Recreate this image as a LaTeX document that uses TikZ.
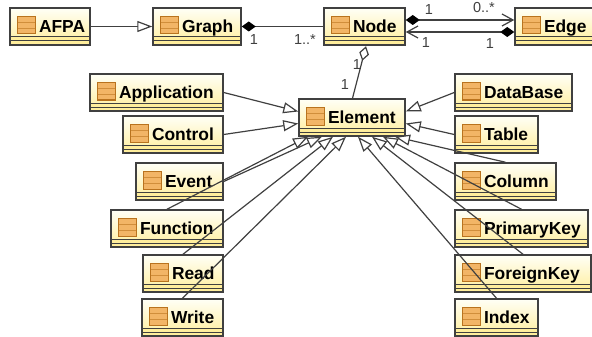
\documentclass[tikz,border=0pt]{standalone}
\usepackage{fontspec}
\setmainfont{Liberation Sans}
\usepackage{tikz}
\usetikzlibrary{arrows.meta,calc}

\definecolor{classtop}{HTML}{FFFFF6}
\definecolor{classbot}{HTML}{FFEE9C}
\definecolor{classline}{HTML}{404040}
\definecolor{iconfill}{HTML}{F2B566}
\definecolor{iconline}{HTML}{B9731E}

\begin{document}
\begin{tikzpicture}
[x=1pt,y=-1pt,
classbox/.style={rectangle,draw=classline,line width=1.5pt,inner sep=0pt,
  text width=#1,text height=24.5pt,text depth=12.5pt,align=left,
  top color=classtop,bottom color=classbot,
  font=\fontsize{17.4pt}{20pt}\bfseries,
  path picture={
    \coordinate (pa) at (path picture bounding box.south west);
    \coordinate (pb) at (path picture bounding box.north west);
    \fill[classbot] ($(pa)+(0,-8.5)$) rectangle ($(pa)+(200,0)$);
    \draw[classline,line width=1pt] ($(pa)+(0,-8)$) -- ++(200,0);
    \draw[classline,line width=1pt] ($(pa)+(0,-4)$) -- ++(200,0);
    \fill[iconfill,draw=iconline,line width=1pt] ($(pb)+(7.5,8.5)$) rectangle ++(17.5,17.5);
    \draw[iconline!60!iconfill,line width=.7pt] ($(pb)+(7.5,14.5)$) -- ++(17.5,0);
    \draw[iconline!60!iconfill,line width=.7pt] ($(pb)+(7.5,20.5)$) -- ++(17.5,0);
  }},
mult/.style={font=\fontsize{14.5pt}{16pt}\selectfont,text=black!75,inner sep=0pt},
link/.style={classline,line width=1.2pt},
gen/.style={link,-{Triangle[open,fill=white,length=15pt,width=11pt]}},
comp/.style={link,{Diamond[length=14pt,width=10pt,fill=black,color=black]}-},
compnav/.style={link,{Diamond[length=14pt,width=10pt,fill=black,color=black]}-{Straight Barb[length=11pt,width=12pt]}},
aggr/.style={link,{Diamond[open,fill=white,length=15pt,width=10pt]}-}]
\useasboundingbox (0,0) rectangle (592,337);
% top row
\node[classbox=80pt] (afpa) at (50,26.5) {\hspace*{29pt}AFPA};
\node[classbox=88pt] (graph) at (197,26.5) {\hspace*{29pt}Graph};
\node[classbox=81pt] (node) at (364.5,26.5) {\hspace*{29pt}Node};
\node[classbox=79pt] (edge) at (554.5,26.5) {\hspace*{29pt}Edge};
\node[classbox=106pt] (element) at (352,117.5) {\hspace*{29pt}Element};
% left column
\node[classbox=133pt] (application) at (156.5,92.5) {\hspace*{29pt}Application};
\node[classbox=100pt] (control) at (173,134.5) {\hspace*{29pt}Control};
\node[classbox=87pt] (event) at (179.5,181.5) {\hspace*{29pt}Event};
\node[classbox=112pt] (function) at (167,228.5) {\hspace*{29pt}Function};
\node[classbox=80pt] (read) at (183,273.5) {\hspace*{29pt}Read};
\node[classbox=81pt] (write) at (182.5,317.5) {\hspace*{29pt}Write};
% right column
\node[classbox=117pt] (database) at (513.5,92.5) {\hspace*{29pt}DataBase};
\node[classbox=83pt] (table) at (496.5,134.5) {\hspace*{29pt}Table};
\node[classbox=101pt] (column) at (505.5,181.5) {\hspace*{29pt}Column};
\node[classbox=133pt] (primarykey) at (521.5,228.5) {\hspace*{29pt}PrimaryKey};
\node[classbox=136pt] (foreignkey) at (523,273.5) {\hspace*{29pt}ForeignKey};
\node[classbox=83pt] (index) at (496.5,317.5) {\hspace*{29pt}Index};
% associations
\draw[gen] (afpa.east) -- (graph.west);
\draw[comp] (graph.east) -- (node.west);
\draw[compnav] ($(node.east)+(0,-6.5)$) -- ($(edge.west)+(0,-6.5)$);
\draw[compnav] ($(edge.west)+(0,5.5)$) -- ($(node.east)+(0,5.5)$);
\draw[aggr] ($(node.south)+(1.5,0.5)$) -- ($(element.north)+(0.5,0)$);
% generalizations
\draw[gen] (application.east) -- ($(element.west)+(0,-6)$);
\draw[gen] (control.east) -- ($(element.west)+(0,6)$);
\draw[gen] (database.west) -- ($(element.east)+(0,-6)$);
\draw[gen] (table.west) -- ($(element.east)+(0,6)$);
\draw[gen] (function.north) -- ($(element.south)+(-44,0)$);
\draw[gen] (event.east) -- ($(element.south)+(-30,0)$);
\draw[gen] (read.north) -- ($(element.south)+(-19,0)$);
\draw[gen] (write.north) -- ($(element.south)+(-6,0)$);
\draw[gen] (index.north) -- ($(element.south)+(6,0)$);
\draw[gen] (foreignkey.north) -- ($(element.south)+(20,0)$);
\draw[gen] (primarykey.north) -- ($(element.south)+(31,0)$);
\draw[gen] (column.north) -- ($(element.south)+(43,0)$);
% multiplicities
\node[mult] (m1) at (254,40) {1};
\node[mult] (m2) at (305,40) {1..*};
\node[mult] (m3) at (429,10) {1};
\node[mult] (m4) at (484,8) {0..*};
\node[mult] (m5) at (426,43) {1};
\node[mult] (m6) at (490,44) {1};
\node[mult] (m7) at (357,65) {1};
\node[mult] (m8) at (345,85) {1};
\end{tikzpicture}
\end{document}
